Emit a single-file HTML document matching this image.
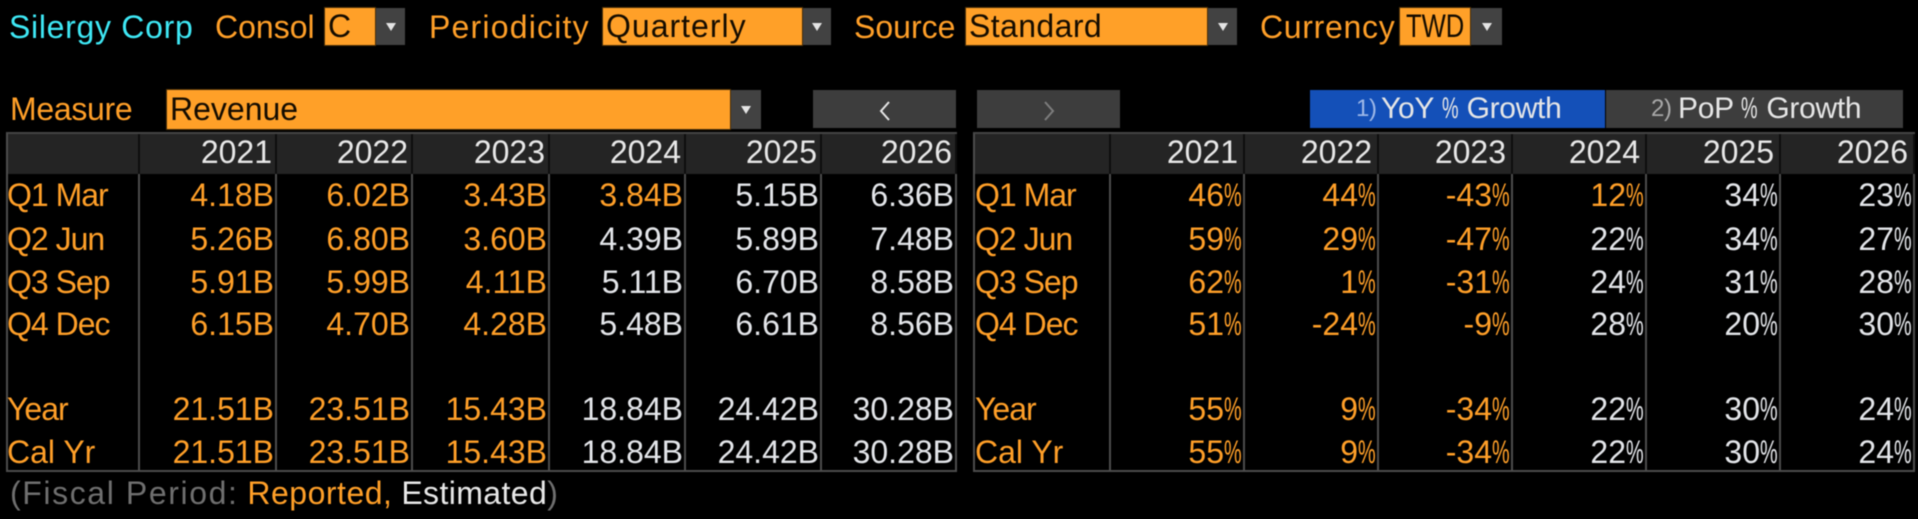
<!DOCTYPE html>
<html lang="en">
<head>
<meta charset="utf-8">
<title>Silergy Corp Revenue</title>
<style>
html,body{margin:0;padding:0;background:#000;}
body{width:1918px;height:519px;position:relative;overflow:hidden;font-family:"Liberation Sans",sans-serif;font-size:32px;color:#ff9f28;}
#stage{position:absolute;left:0;top:0;width:1918px;height:519px;filter:blur(.45px);}
.t{position:absolute;white-space:nowrap;line-height:38px;height:38px;}
.lbl{top:8px;}
.box{position:absolute;top:8px;height:37px;line-height:36px;background:#ffa028;color:#140c00;box-shadow:0 0 0 1px #4a2f08;padding-left:3px;box-sizing:border-box;white-space:nowrap;overflow:hidden;}
.dd{position:absolute;top:8px;height:37px;background:#424242;}
.dd::after{content:"";position:absolute;left:50%;top:50%;margin:-4px 0 0 -5px;border-left:5px solid transparent;border-right:5px solid transparent;border-top:8px solid #e4e4e4;}
.btn{position:absolute;top:90px;height:38px;background:#3d3d3d;color:#e6e6e6;text-align:center;line-height:37px;box-sizing:border-box;white-space:nowrap;}
.tx{position:absolute;top:1px;font-size:30px;line-height:36px;letter-spacing:-.3px;}
.num{font-size:24px;}
.tbl{position:absolute;top:132px;display:grid;grid-template-rows:40px 44px 43px 42px 43px 42px 43px 39px;box-sizing:border-box;border-left:2px solid #4c4c4c;border-bottom:2px solid #4c4c4c;border-top:2px solid #444;}
.tbl>div{border-right:2px solid #4c4c4c;box-sizing:border-box;text-align:right;padding-right:2px;white-space:nowrap;line-height:43px;overflow:visible;}
.tbl>div.h{background:#242424;color:#e8e8e8;border-right-color:#0e0e0e;padding-right:5px;line-height:36px;}
.tbl>div.l{text-align:left;padding-left:0;letter-spacing:-1px;}
.tbl>div.w{color:#e4e6ea;}
#revtbl>div{padding-right:1px;}
#revtbl>div.h{padding-right:3px;}
#revtbl>div.l{text-indent:-1px;}
i{font-style:normal;display:inline-block;width:17px;transform:scaleX(.62);transform-origin:0 50%;text-align:left;}
</style>
</head>
<body>
<div id="stage">
<span class="t lbl" style="left:9px;color:#3ee8f5;letter-spacing:.7px">Silergy Corp</span>
<span class="t lbl" style="left:215px">Consol</span>
<div class="box" style="left:325px;width:50px">C</div>
<div class="dd" style="left:376px;width:29px"></div>
<span class="t lbl" style="left:429px;letter-spacing:1.2px">Periodicity</span>
<div class="box" style="left:603px;width:199px;letter-spacing:1px">Quarterly</div>
<div class="dd" style="left:803px;width:28px"></div>
<span class="t lbl" style="left:854px">Source</span>
<div class="box" style="left:966px;width:241px;letter-spacing:.4px">Standard</div>
<div class="dd" style="left:1208px;width:29px"></div>
<span class="t lbl" style="left:1260px;letter-spacing:.7px">Currency</span>
<div class="box" style="left:1400px;width:70px"><span style="display:inline-block;transform:scaleX(.8);transform-origin:0 50%;margin-left:3px">TWD</span></div>
<div class="dd" style="left:1471px;width:31px"></div>

<span class="t" style="left:10px;top:90px;letter-spacing:-.3px">Measure</span>
<div class="box" style="left:167px;top:90px;width:563px;height:39px;line-height:38px">Revenue</div>
<div class="dd" style="left:731px;top:90px;width:30px;height:39px"></div>
<div class="btn" style="left:813px;width:143px"><svg width="14" height="22" viewBox="0 0 14 22" style="vertical-align:-3px"><polyline points="11,2 3,11 11,20" fill="none" stroke="#e6e6e6" stroke-width="2"/></svg></div>
<div class="btn" style="left:977px;width:143px"><svg width="14" height="22" viewBox="0 0 14 22" style="vertical-align:-3px"><polyline points="3,2 11,11 3,20" fill="none" stroke="#7d7d7d" stroke-width="2"/></svg></div>
<div class="btn" style="left:1310px;width:295px;background:#1450b8"><span class="tx num" style="left:46px;color:#9db8e8">1)</span><span class="tx" style="left:71px">YoY <i>%</i> Growth</span></div>
<div class="btn" style="left:1606px;width:297px"><span class="tx num" style="left:45px;color:#a8a8a8">2)</span><span class="tx" style="left:72px">PoP <i>%</i> Growth</span></div>

<div class="tbl" id="revtbl" style="left:6px;grid-template-columns:132px 137px 136px 137px 136px 136px 135px">
<div class="h"></div><div class="h">2021</div><div class="h">2022</div><div class="h">2023</div><div class="h">2024</div><div class="h">2025</div><div class="h">2026</div>
<div class="l">Q1 Mar</div><div>4.18B</div><div>6.02B</div><div>3.43B</div><div>3.84B</div><div class="w">5.15B</div><div class="w">6.36B</div>
<div class="l">Q2 Jun</div><div>5.26B</div><div>6.80B</div><div>3.60B</div><div class="w">4.39B</div><div class="w">5.89B</div><div class="w">7.48B</div>
<div class="l">Q3 Sep</div><div>5.91B</div><div>5.99B</div><div>4.11B</div><div class="w">5.11B</div><div class="w">6.70B</div><div class="w">8.58B</div>
<div class="l">Q4 Dec</div><div>6.15B</div><div>4.70B</div><div>4.28B</div><div class="w">5.48B</div><div class="w">6.61B</div><div class="w">8.56B</div>
<div></div><div></div><div></div><div></div><div></div><div></div><div></div>
<div class="l">Year</div><div>21.51B</div><div>23.51B</div><div>15.43B</div><div class="w">18.84B</div><div class="w">24.42B</div><div class="w">30.28B</div>
<div class="l" style="letter-spacing:0">Cal Yr</div><div>21.51B</div><div>23.51B</div><div>15.43B</div><div class="w">18.84B</div><div class="w">24.42B</div><div class="w">30.28B</div>
</div>

<div class="tbl" style="left:973px;grid-template-columns:136px 134px 134px 134px 134px 134px 134px">
<div class="h"></div><div class="h">2021</div><div class="h">2022</div><div class="h">2023</div><div class="h">2024</div><div class="h">2025</div><div class="h">2026</div>
<div class="l">Q1 Mar</div><div>46<i>%</i></div><div>44<i>%</i></div><div>-43<i>%</i></div><div>12<i>%</i></div><div class="w">34<i>%</i></div><div class="w">23<i>%</i></div>
<div class="l">Q2 Jun</div><div>59<i>%</i></div><div>29<i>%</i></div><div>-47<i>%</i></div><div class="w">22<i>%</i></div><div class="w">34<i>%</i></div><div class="w">27<i>%</i></div>
<div class="l">Q3 Sep</div><div>62<i>%</i></div><div>1<i>%</i></div><div>-31<i>%</i></div><div class="w">24<i>%</i></div><div class="w">31<i>%</i></div><div class="w">28<i>%</i></div>
<div class="l">Q4 Dec</div><div>51<i>%</i></div><div>-24<i>%</i></div><div>-9<i>%</i></div><div class="w">28<i>%</i></div><div class="w">20<i>%</i></div><div class="w">30<i>%</i></div>
<div></div><div></div><div></div><div></div><div></div><div></div><div></div>
<div class="l">Year</div><div>55<i>%</i></div><div>9<i>%</i></div><div>-34<i>%</i></div><div class="w">22<i>%</i></div><div class="w">30<i>%</i></div><div class="w">24<i>%</i></div>
<div class="l" style="letter-spacing:0">Cal Yr</div><div>55<i>%</i></div><div>9<i>%</i></div><div>-34<i>%</i></div><div class="w">22<i>%</i></div><div class="w">30<i>%</i></div><div class="w">24<i>%</i></div>
</div>

<span class="t" style="left:10px;top:474px;color:#6f6f6f"><span style="letter-spacing:1.6px">(Fiscal Period:</span> <span style="color:#ff9f28;letter-spacing:.5px">Reported,</span> <span style="color:#e8e8e8;letter-spacing:.4px">Estimated</span>)</span>
</div>
</body>
</html>
